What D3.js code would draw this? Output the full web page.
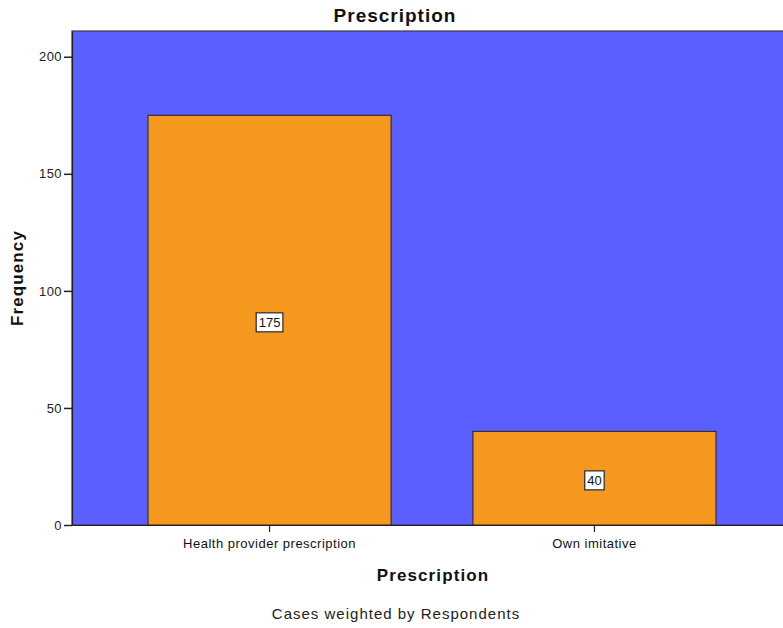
<!DOCTYPE html>
<html>
<head>
<meta charset="utf-8">
<script src="https://cdn.jsdelivr.net/npm/d3@7"></script>
<style>
  html, body { margin: 0; padding: 0; background: #fff; }
  svg { display: block; font-family: "Liberation Sans", Arial, sans-serif; }
</style>
</head>
<body>
<svg id="chart" width="783" height="628"></svg>
<script>
// Frequency of prescription source
const categories = ["Health provider prescription", "Own imitative"];
const frequencies = [175, 40];
const yTicks = [0, 50, 100, 150, 200];

const svg = d3.select("#chart");
const plot = { left: 72, top: 31, bottom: 525, right: 792 };

const x = d3.scaleBand()
  .domain(categories)
  .range([plot.left, plot.right])
  .paddingInner(0.252)
  .paddingOuter(0.234);

const y = d3.scaleLinear()
  .domain([0, 211])
  .range([plot.bottom, plot.top]);

// Plot background
svg.append("rect")
  .attr("x", plot.left).attr("y", plot.top)
  .attr("width", plot.right - plot.left).attr("height", plot.bottom - plot.top)
  .attr("fill", "#5b5fff")
  .attr("stroke", "#3a3a4a").attr("stroke-width", 1.2);

// Bars
svg.append("g").selectAll("rect")
  .data(categories)
  .join("rect")
  .attr("x", d => x(d))
  .attr("y", (d, i) => y(frequencies[i]))
  .attr("width", x.bandwidth())
  .attr("height", (d, i) => y(0) - y(frequencies[i]))
  .attr("fill", "#f7981e")
  .attr("stroke", "#222")
  .attr("stroke-width", 1);

// Y axis
const yAxis = svg.append("g")
  .attr("transform", `translate(${plot.left},0)`)
  .call(d3.axisLeft(y).tickValues(yTicks).tickSize(8).tickSizeOuter(0).tickPadding(2));
yAxis.select(".domain").attr("stroke", "#222").attr("stroke-width", 1.2);
yAxis.selectAll(".tick line").attr("stroke", "#222").attr("stroke-width", 1.5);
yAxis.selectAll(".tick text").attr("font-size", 13).attr("letter-spacing", 0.4).attr("fill", "#222")
  .attr("font-family", "Liberation Sans, Arial, sans-serif");

// X axis
const xAxis = svg.append("g")
  .attr("transform", `translate(0,${plot.bottom})`)
  .call(d3.axisBottom(x).tickSize(7).tickSizeOuter(0).tickPadding(7));
xAxis.select(".domain").attr("stroke", "#222").attr("stroke-width", 1.2);
xAxis.selectAll(".tick line").attr("stroke", "#222").attr("stroke-width", 1.2);
xAxis.selectAll(".tick text").attr("font-size", 13).attr("letter-spacing", 0.5).attr("fill", "#111")
  .attr("font-family", "Liberation Sans, Arial, sans-serif");

// Value labels in white boxes
const labels = svg.append("g").selectAll("g")
  .data(categories)
  .join("g")
  .attr("transform", (d, i) => `translate(${x(d) + x.bandwidth() / 2},${y(frequencies[i] / 2) + 2})`);
labels.each(function(d, i) {
  const g = d3.select(this);
  const t = g.append("text")
    .attr("text-anchor", "middle")
    .attr("dy", "0.36em")
    .attr("font-size", 13)
    .attr("fill", "#111")
    .text(frequencies[i]);
  const bb = t.node().getBBox();
  g.insert("rect", "text")
    .attr("x", bb.x - 2.5).attr("y", bb.y - 2)
    .attr("width", bb.width + 5).attr("height", bb.height + 4)
    .attr("fill", "#fff").attr("stroke", "#333").attr("stroke-width", 1.3);
});

// Titles
svg.append("text")
  .attr("x", 395).attr("y", 22)
  .attr("text-anchor", "middle")
  .attr("font-size", 19).attr("letter-spacing", 1).attr("font-weight", "bold").attr("fill", "#111")
  .text("Prescription");

svg.append("text")
  .attr("transform", `translate(23,${(plot.top + plot.bottom) / 2}) rotate(-90)`)
  .attr("text-anchor", "middle")
  .attr("font-size", 17).attr("letter-spacing", 1.1).attr("font-weight", "bold").attr("fill", "#111")
  .text("Frequency");

svg.append("text")
  .attr("x", 433).attr("y", 581)
  .attr("text-anchor", "middle")
  .attr("font-size", 17).attr("letter-spacing", 1.1).attr("font-weight", "bold").attr("fill", "#111")
  .text("Prescription");

svg.append("text")
  .attr("x", 396).attr("y", 619)
  .attr("text-anchor", "middle")
  .attr("font-size", 15).attr("letter-spacing", 1).attr("fill", "#222")
  .text("Cases weighted by Respondents");
</script>
</body>
</html>
